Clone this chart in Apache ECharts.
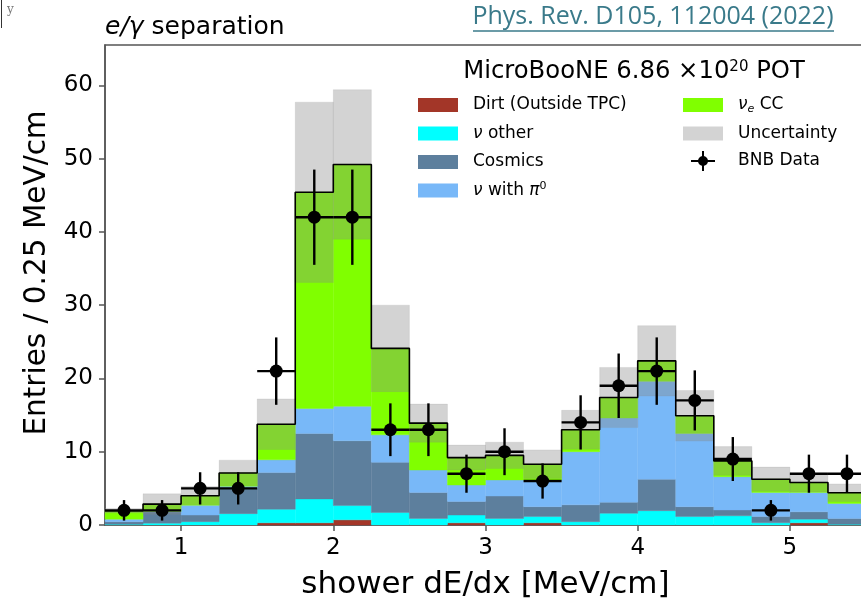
<!DOCTYPE html>
<html><head><meta charset="utf-8">
<script src="https://cdn.jsdelivr.net/npm/echarts@6/dist/echarts.min.js"></script>
<style>html,body{margin:0;padding:0;background:#fff}#c{width:861px;height:598px}</style>
</head><body><div id="c"></div>
<script>
// ---- data ----
const binEdges = [0.5,0.75,1.0,1.25,1.5,1.75,2.0,2.25,2.5,2.75,3.0,3.25,3.5,3.75,4.0,4.25,4.5,4.75,5.0,5.25,5.5];
const dirt    = [0,0,0,0,0.3,0.3,0.7,0,0,0.3,0,0.3,0,0,0,0,0,0,0.3,0];
const nuOther = [0.1,0.25,0.45,1.55,1.85,3.25,1.95,1.7,0.9,1.05,0.9,0.85,0.45,1.6,1.95,1.15,1.25,0.3,0.5,0.1];
const cosmics = [0.35,1.55,0.9,3.45,5.0,8.95,8.85,6.85,3.55,1.85,3.05,1.35,2.3,1.5,4.3,1.35,0.8,0.85,1.0,0.8];
const nuPi0   = [0.35,0.05,1.35,0.3,1.75,3.4,4.7,3.75,3.05,2.25,2.2,3.65,7.25,11.5,13.35,10.0,4.55,3.3,2.65,2.05];
const nueCC   = [1.15,1.0,1.3,1.8,4.85,29.5,33.0,11.8,6.4,3.75,3.35,2.15,3.0,2.8,2.8,2.4,2.15,1.8,1.35,1.45];
const mcUncert = [0.3,1.4,1.25,1.75,3.45,12.3,10.2,5.9,2.6,1.7,1.8,1.95,2.65,4.1,4.8,3.45,1.95,1.65,1.3,1.2];
const bnbData  = [2,2,5,5,21,42,42,13,13,7,10,6,14,19,21,17,9,2,7,7];
const bnbErr   = [1.4,1.4,2.2,2.2,4.6,6.5,6.5,3.6,3.6,2.6,3.2,2.4,3.7,4.4,4.6,4.1,3.0,1.4,2.6,2.6];
const xTicks = [1,2,3,4,5];
const yTicks = [0,10,20,30,40,50,60];

const FONT = 'DejaVu Sans';
const comps = [
  {name:'Dirt (Outside TPC)', vals:dirt,    color:'#a33628'},
  {name:'ν other',            vals:nuOther, color:'#00ffff'},
  {name:'Cosmics',            vals:cosmics, color:'#5d7f9d'},
  {name:'ν with π0',          vals:nuPi0,   color:'#78b8f8'},
  {name:'νe CC',              vals:nueCC,   color:'#80ff00'}
];
const nb = binEdges.length - 1;
function rectRender(fill){
  return function(params, api){
    const p0 = api.coord([api.value(0), api.value(3)]);
    const p1 = api.coord([api.value(1), api.value(2)]);
    return {type:'rect', shape:{x:p0[0], y:p0[1], width:p1[0]-p0[0], height:p1[1]-p0[1]},
      style:{fill:fill, stroke:fill, lineWidth:0.4}};
  };
}
let base = new Array(nb).fill(0);
const series = [];
comps.forEach(function(c){
  const data = c.vals.map(function(v,i){ return [binEdges[i], binEdges[i+1], base[i], base[i]+v]; });
  base = base.map(function(b,i){ return b + c.vals[i]; });
  series.push({name:c.name, type:'custom', renderItem:rectRender(c.color), itemStyle:{color:c.color},
    encode:{x:[0,1], y:[2,3]}, data:data, z:1, silent:true});
});
const total = base;
const uncColor = 'rgba(135,135,135,0.37)';
series.push({name:'Uncertainty', type:'custom', renderItem:rectRender(uncColor), itemStyle:{color:uncColor},
  encode:{x:[0,1], y:[2,3]}, z:2, silent:true,
  data: total.map(function(t,i){ return [binEdges[i], binEdges[i+1], t - mcUncert[i], t + mcUncert[i]]; })});
series.push({name:'total', type:'line', step:'end', symbol:'none', z:3, silent:true,
  lineStyle:{color:'#000', width:1.6},
  data: binEdges.map(function(e,i){ return [e, total[Math.min(i, nb-1)]]; })});
const centers = bnbData.map(function(v,i){ return [(binEdges[i]+binEdges[i+1])/2, v, bnbErr[i], (binEdges[i+1]-binEdges[i])/2]; });
series.push({name:'errbars', type:'custom', z:4, silent:true, encode:{x:0, y:1},
  renderItem:function(params, api){
    const x = api.value(0), y = api.value(1), e = api.value(2), h = api.value(3);
    const a = api.coord([x, y-e]), b = api.coord([x, y+e]);
    const l = api.coord([x-h, y]), r = api.coord([x+h, y]);
    return {type:'group', children:[
      {type:'line', shape:{x1:a[0], y1:a[1], x2:b[0], y2:b[1]}, style:{stroke:'#000', lineWidth:2.4}},
      {type:'line', shape:{x1:l[0], y1:l[1], x2:r[0], y2:r[1]}, style:{stroke:'#000', lineWidth:2.4}}
    ]};
  }, data: centers});
series.push({name:'BNB Data', type:'scatter', symbol:'circle', symbolSize:13, z:5, silent:true,
  itemStyle:{color:'#000', opacity:1}, data: centers.map(function(c){ return [c[0], c[1]]; })});

const legendRich = {
  g:{width:10},
  i:{fontStyle:'italic', fontFamily:FONT, fontSize:17, lineHeight:20, color:'#000'},
  sup:{fontFamily:FONT, fontSize:11, lineHeight:11, verticalAlign:'top', color:'#000'},
  sub:{fontFamily:FONT, fontStyle:'italic', fontSize:11, lineHeight:11, verticalAlign:'bottom', color:'#000'}
};
const legendFmt = {
  'ν other':'{g|}{i|ν} other',
  'ν with π0':'{g|}{i|ν} with {i|π}{sup|0}',
  'νe CC':'{g|}{i|ν}{sub|e} CC'
};
function fmt(n){ return legendFmt[n] || ('{g|}' + n); }
const legendBase = {orient:'vertical', itemWidth:40, itemHeight:14, itemGap:8.5, padding:0, selectedMode:false,
  formatter:fmt, icon:'rect',
  textStyle:{fontFamily:FONT, fontSize:17, lineHeight:20, color:'#000', rich:legendRich}};
const dataIcon = 'path://M0,9L24,9L24,11L0,11Z M11,0L13,0L13,20L11,20Z M12,5A5,5 0 1 1 12,15A5,5 0 1 1 12,5Z';

const option = {
  animation:false,
  backgroundColor:'#fff',
  grid:{left:105, top:45, right:-5, bottom:73, outerBoundsMode:'none', containLabel:false,
    show:true, borderColor:'#555', borderWidth:1.5, backgroundColor:'transparent'},
  xAxis:{type:'value', min:0.5, max:5.5,
    name:'shower dE/dx [MeV/cm]', nameLocation:'middle', nameGap:44,
    nameTextStyle:{fontFamily:FONT, fontSize:31, color:'#000'},
    axisLine:{show:true, lineStyle:{color:'#555', width:1.5}},
    axisTick:{show:true, inside:false, length:6, lineStyle:{color:'#555', width:1.5}, customValues:xTicks},
    axisLabel:{fontFamily:FONT, fontSize:23, color:'#000', margin:12, customValues:xTicks},
    splitLine:{show:false}},
  yAxis:{type:'value', min:0, max:65.5,
    name:'Entries / 0.25 MeV/cm', nameLocation:'middle', nameGap:52, nameRotate:90,
    nameTextStyle:{fontFamily:FONT, fontSize:29.5, color:'#000', padding:[0,0,0,24]},
    axisLine:{show:true, lineStyle:{color:'#555', width:1.5}},
    axisTick:{show:true, inside:false, length:6, lineStyle:{color:'#555', width:1.5}, customValues:yTicks},
    axisLabel:{fontFamily:FONT, fontSize:23, color:'#000', margin:12, customValues:yTicks},
    splitLine:{show:false}},
  legend:[
    Object.assign({}, legendBase, {left:418, top:95, data:['Dirt (Outside TPC)','ν other','Cosmics','ν with π0']}),
    Object.assign({}, legendBase, {left:683, top:95, data:['νe CC','Uncertainty']}),
    Object.assign({}, legendBase, {left:691, top:151, itemHeight:20, data:[{name:'BNB Data', icon:dataIcon}]})
  ],
  graphic:[
    {type:'text', x:105, y:27, style:{text:'{i|e/γ} separation', fontFamily:FONT, fontSize:25, fill:'#000', verticalAlign:'middle',
      rich:{i:{fontFamily:FONT, fontStyle:'italic', fontSize:25, fill:'#000'}}}},
    {type:'text', x:653, y:17, style:{text:'Phys. Rev. D105, 112004 (2022)', fontFamily:'Open Sans', fontSize:25, fill:'#3a7a8a', align:'center', verticalAlign:'middle'}},
    {type:'line', shape:{x1:473, y1:31, x2:834, y2:31}, style:{stroke:'#3a7a8a', lineWidth:1.5}},
    {type:'text', x:634, y:72, style:{text:'MicroBooNE 6.86 ×10{s|20} POT', fontFamily:FONT, fontSize:24.3, fill:'#000', align:'center', verticalAlign:'middle',
      rich:{s:{fontFamily:FONT, fontSize:15, verticalAlign:'top', lineHeight:12, fill:'#000'}}}},
    {type:'text', x:7, y:4, style:{text:'y', fontFamily:'DejaVu Serif', fontSize:12, fill:'#777'}},
    {type:'line', shape:{x1:1.5, y1:0, x2:1.5, y2:28}, style:{stroke:'#333', lineWidth:1}}
  ],
  series:series
};
const chart = echarts.init(document.getElementById('c'), null, {renderer:'canvas'});
chart.setOption(option);
</script></body></html>
